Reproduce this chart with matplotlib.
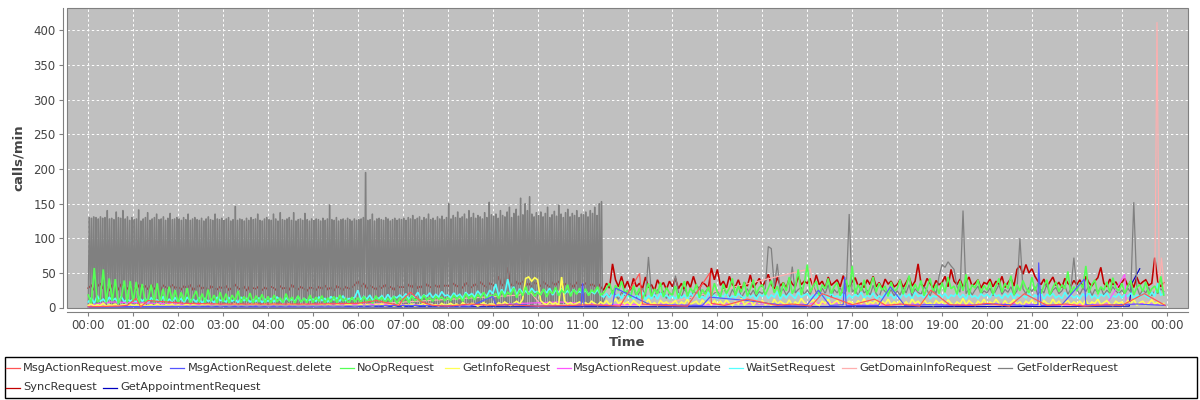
import numpy as np
import matplotlib
matplotlib.use("Agg")
import matplotlib.pyplot as plt
from matplotlib.patches import Rectangle
from matplotlib.lines import Line2D

# ---------------- data ----------------
series_names = ["MsgActionRequest.move", "MsgActionRequest.delete", "NoOpRequest",
                "GetInfoRequest", "MsgActionRequest.update", "WaitSetRequest",
                "GetDomainInfoRequest", "GetFolderRequest", "SyncRequest",
                "GetAppointmentRequest"]
series_colors = ["#FF5555", "#5555FF", "#55FF55", "#FFFF55", "#FF55FF", "#55FFFF",
                 "#FFAFAF", "#808080", "#C00000", "#0000C0"]

hour_labels = ["00:00", "01:00", "02:00", "03:00", "04:00", "05:00", "06:00", "07:00",
               "08:00", "09:00", "10:00", "11:00", "12:00", "13:00", "14:00", "15:00",
               "16:00", "17:00", "18:00", "19:00", "20:00", "21:00", "22:00", "23:00", "00:00"]
y_ticks = [0, 50, 100, 150, 200, 250, 300, 350, 400]

# 4-minute samples, one row per hour (calls/min)
sync_rows = [
    [28, 32, 25, 30, 35, 27, 31, 24, 33, 29, 26, 34, 30, 27, 32],
    [29, 25, 33, 28, 31, 26, 34, 27, 30, 24, 32, 29, 27, 33, 28],
    [30, 26, 31, 28, 33, 25, 29, 32, 27, 30, 24, 31, 28, 26, 30],
    [27, 31, 25, 29, 33, 28, 26, 30, 24, 32, 28, 27, 31, 25, 29],
    [26, 30, 28, 24, 31, 27, 29, 25, 33, 28, 26, 30, 27, 24, 29],
    [28, 25, 30, 27, 32, 26, 29, 24, 31, 28, 25, 30, 27, 29, 33],
    [38, 30, 35, 27, 32, 29, 26, 31, 28, 33, 27, 30, 25, 32, 29],
    [30, 27, 33, 29, 35, 28, 31, 26, 34, 30, 28, 32, 29, 35, 31],
    [32, 29, 35, 30, 33, 28, 36, 31, 29, 34, 30, 37, 32, 29, 35],
    [33, 30, 45, 31, 36, 58, 34, 30, 37, 33, 38, 31, 35, 30, 36],
    [34, 31, 37, 33, 29, 36, 32, 38, 30, 35, 31, 34, 29, 36, 33],
    [32, 35, 30, 34, 31, 36, 30, 25, 35, 28, 63, 40, 30, 45, 28],
    [38, 25, 42, 30, 35, 27, 44, 29, 33, 24, 40, 31, 36, 26, 38],
    [30, 42, 27, 35, 25, 38, 29, 45, 31, 27, 36, 33, 28, 57, 40],
    [55, 32, 38, 28, 45, 33, 30, 40, 27, 36, 31, 47, 29, 35, 42],
    [30, 38, 48, 33, 27, 44, 31, 36, 28, 42, 34, 30, 45, 33, 38],
    [35, 42, 30, 47, 33, 38, 28, 44, 32, 36, 40, 30, 46, 34, 29],
    [37, 43, 31, 35, 29, 40, 33, 45, 30, 36, 28, 41, 34, 38, 30],
    [33, 40, 29, 36, 44, 31, 38, 63, 34, 30, 42, 35, 28, 39, 33],
    [36, 45, 30, 55, 38, 33, 41, 29, 37, 44, 31, 35, 40, 28, 36],
    [34, 41, 30, 38, 33, 45, 29, 36, 42, 31, 55, 60, 48, 62, 50],
    [56, 45, 38, 33, 41, 30, 37, 44, 32, 36, 29, 42, 35, 31, 39],
    [33, 40, 29, 45, 36, 31, 38, 43, 58, 35, 30, 41, 33, 37, 29],
    [36, 42, 31, 38, 29, 44, 33, 37, 40, 32, 35, 72, 38, 30, 36],
]
noop_rows = [
    [18, 6, 57, 8, 12, 55, 7, 42, 9, 41, 6, 14, 39, 7, 38],
    [8, 37, 6, 34, 9, 12, 33, 7, 35, 8, 27, 6, 30, 10, 25],
    [7, 22, 9, 28, 6, 15, 24, 8, 20, 7, 26, 9, 18, 6, 22],
    [8, 20, 6, 18, 10, 24, 7, 16, 9, 21, 6, 17, 8, 19, 7],
    [16, 6, 18, 8, 14, 7, 20, 9, 15, 6, 17, 8, 13, 7, 18],
    [7, 15, 9, 17, 6, 14, 8, 16, 7, 18, 9, 13, 6, 15, 8],
    [14, 7, 16, 8, 12, 6, 17, 9, 15, 7, 13, 8, 16, 6, 14],
    [9, 15, 7, 17, 10, 13, 8, 18, 11, 14, 9, 16, 12, 15, 10],
    [14, 10, 18, 12, 16, 9, 20, 13, 17, 11, 19, 14, 22, 12, 18],
    [16, 20, 13, 24, 15, 22, 18, 28, 14, 25, 17, 30, 19, 23, 16],
    [22, 18, 27, 15, 24, 20, 29, 17, 25, 21, 33, 16, 26, 19, 28],
    [20, 27, 17, 25, 22, 30, 18, 21, 28, 35, 19, 32, 24, 38, 22],
    [24, 14, 32, 18, 28, 12, 22, 35, 16, 27, 20, 36, 15, 29, 21],
    [18, 31, 13, 25, 38, 16, 28, 21, 34, 14, 26, 19, 30, 17, 35],
    [22, 15, 34, 20, 28, 42, 17, 31, 22, 37, 16, 27, 40, 19, 29],
    [33, 18, 28, 39, 21, 31, 16, 36, 24, 44, 20, 29, 55, 18, 34],
    [62, 22, 31, 38, 18, 33, 27, 42, 20, 30, 36, 17, 29, 40, 22],
    [60, 20, 33, 24, 40, 18, 29, 44, 22, 35, 25, 31, 16, 37, 23],
    [27, 40, 19, 31, 46, 21, 34, 24, 39, 17, 29, 42, 22, 33, 20],
    [36, 22, 44, 27, 31, 19, 38, 24, 48, 18, 33, 28, 40, 21, 32],
    [25, 37, 19, 31, 42, 22, 35, 27, 46, 18, 33, 24, 39, 28, 21],
    [44, 24, 35, 20, 31, 40, 18, 29, 37, 23, 33, 27, 52, 19, 30],
    [24, 36, 28, 60, 21, 33, 40, 19, 30, 25, 37, 22, 43, 28, 24],
    [35, 20, 31, 39, 18, 29, 33, 23, 37, 19, 27, 31, 21, 45, 18],
]
waitset_rows = [
    [8, 14, 6, 17, 9, 12, 7, 15, 10, 13, 6, 16, 8, 12, 9],
    [12, 7, 15, 9, 13, 6, 14, 10, 11, 8, 16, 7, 12, 9, 14],
    [9, 13, 7, 15, 10, 12, 8, 14, 6, 13, 9, 11, 7, 15, 10],
    [11, 8, 14, 9, 12, 7, 15, 10, 13, 8, 11, 9, 14, 7, 12],
    [9, 13, 8, 15, 11, 7, 14, 10, 12, 9, 16, 8, 13, 10, 11],
    [12, 9, 15, 10, 13, 8, 16, 11, 14, 9, 17, 10, 13, 12, 15],
    [25, 11, 16, 12, 18, 10, 15, 13, 17, 11, 19, 12, 16, 14, 18],
    [14, 20, 12, 17, 15, 22, 13, 18, 16, 21, 14, 19, 15, 23, 17],
    [18, 14, 21, 16, 19, 13, 22, 17, 20, 15, 24, 18, 21, 16, 25],
    [20, 34, 17, 26, 19, 41, 22, 30, 18, 27, 21, 24, 19, 28, 22],
    [23, 19, 26, 21, 28, 18, 25, 22, 27, 20, 24, 19, 26, 21, 23],
    [21, 25, 19, 23, 20, 26, 18, 15, 20, 14, 22, 16, 19, 13, 21],
    [15, 20, 12, 18, 14, 22, 11, 17, 13, 19, 12, 21, 15, 18, 13],
    [17, 12, 20, 14, 18, 11, 21, 15, 19, 13, 16, 12, 22, 14, 18],
    [13, 19, 15, 22, 12, 17, 14, 20, 16, 13, 21, 15, 18, 12, 19],
    [16, 21, 13, 18, 15, 23, 12, 19, 14, 20, 17, 13, 22, 15, 18],
    [20, 14, 18, 13, 22, 16, 19, 12, 21, 15, 17, 14, 20, 13, 18],
    [14, 19, 16, 22, 13, 18, 15, 21, 12, 17, 14, 20, 16, 19, 13],
    [18, 13, 21, 15, 19, 12, 22, 16, 18, 14, 20, 13, 17, 15, 21],
    [15, 20, 13, 18, 16, 22, 14, 19, 12, 21, 15, 17, 13, 20, 16],
    [19, 14, 22, 16, 18, 13, 20, 15, 21, 12, 19, 16, 17, 14, 22],
    [13, 18, 15, 21, 12, 19, 16, 20, 14, 17, 13, 22, 15, 18, 14],
    [17, 13, 20, 15, 22, 14, 18, 12, 19, 16, 21, 13, 17, 15, 20],
    [14, 19, 16, 21, 13, 18, 15, 20, 17, 14, 22, 16, 35, 18, 20],
]
getinfo_rows = [
    [3, 5, 2, 4, 3, 6, 2, 4, 3, 5, 2, 3, 4, 2, 5],
    [2, 4, 3, 5, 2, 3, 4, 2, 5, 3, 2, 4, 3, 5, 2],
    [4, 2, 3, 5, 2, 4, 3, 2, 4, 3, 5, 2, 3, 4, 2],
    [3, 4, 2, 3, 5, 2, 4, 3, 2, 4, 3, 5, 2, 3, 4],
    [2, 3, 5, 2, 4, 3, 2, 5, 3, 4, 2, 3, 4, 2, 3],
    [4, 2, 3, 4, 2, 5, 3, 2, 4, 3, 2, 4, 5, 3, 2],
    [3, 5, 2, 4, 3, 2, 4, 3, 5, 2, 3, 4, 2, 3, 5],
    [2, 4, 3, 5, 2, 3, 4, 6, 2, 5, 3, 4, 2, 6, 3],
    [4, 6, 3, 5, 2, 7, 4, 3, 6, 5, 2, 4, 7, 3, 5],
    [5, 3, 7, 4, 8, 5, 3, 6, 9, 5, 12, 42, 44, 38, 43],
    [40, 10, 6, 4, 8, 5, 7, 3, 44, 9, 5, 7, 4, 6, 8],
    [5, 7, 4, 9, 6, 3, 8, 5, 10, 4, 7, 12, 6, 9, 5],
    [8, 4, 10, 6, 3, 9, 5, 12, 4, 7, 3, 10, 6, 8, 4],
    [6, 10, 3, 8, 5, 12, 4, 7, 9, 3, 11, 5, 8, 4, 10],
    [5, 9, 4, 11, 6, 3, 8, 5, 13, 4, 7, 10, 3, 9, 6],
    [10, 4, 7, 3, 12, 5, 9, 6, 4, 11, 3, 8, 5, 13, 7],
    [4, 8, 11, 5, 3, 9, 6, 12, 4, 7, 10, 3, 8, 5, 9],
    [7, 3, 10, 5, 13, 4, 8, 6, 11, 3, 9, 5, 12, 4, 8],
    [5, 10, 4, 8, 3, 12, 6, 9, 4, 11, 5, 7, 3, 10, 6],
    [9, 4, 11, 6, 3, 8, 5, 13, 4, 10, 6, 3, 9, 5, 12],
    [4, 8, 5, 12, 6, 3, 10, 4, 7, 11, 5, 8, 3, 9, 6],
    [11, 5, 8, 3, 10, 6, 4, 12, 5, 9, 3, 7, 10, 4, 8],
    [5, 9, 4, 11, 3, 8, 6, 12, 4, 7, 10, 5, 3, 9, 6],
    [8, 4, 10, 5, 12, 3, 7, 9, 4, 6, 11, 5, 8, 4, 6],
]

# GetFolderRequest: bursts every 3 minutes until ~11:25 (peak values per burst)
folder_peak_rows = [
    [130, 129, 131, 130, 128, 131, 129, 130, 140, 128, 129, 127, 138, 130, 129, 140, 128, 131, 126, 130],
    [127, 128, 141, 125, 128, 130, 137, 126, 128, 130, 135, 127, 128, 131, 126, 129, 136, 127, 128, 130],
    [128, 126, 130, 127, 135, 126, 128, 130, 127, 126, 129, 125, 128, 131, 127, 126, 135, 128, 127, 129],
    [126, 128, 130, 125, 127, 146, 126, 128, 127, 125, 129, 126, 130, 127, 128, 135, 126, 125, 128, 130],
    [127, 126, 135, 128, 125, 137, 127, 126, 128, 130, 126, 137, 125, 127, 128, 126, 136, 127, 125, 128],
    [126, 128, 127, 125, 129, 126, 128, 148, 127, 126, 130, 125, 127, 128, 126, 129, 127, 125, 128, 126],
    [127, 128, 130, 195, 126, 127, 135, 125, 128, 129, 127, 126, 130, 128, 125, 127, 129, 126, 128, 127],
    [129, 126, 130, 128, 133, 127, 129, 131, 126, 130, 128, 135, 127, 129, 126, 131, 128, 132, 127, 130],
    [150, 128, 133, 130, 138, 129, 131, 135, 128, 140, 130, 136, 129, 133, 131, 128, 137, 130, 152, 134],
    [132, 135, 129, 140, 133, 131, 138, 145, 130, 136, 142, 132, 158, 134, 150, 140, 160, 135, 131, 137],
    [133, 138, 131, 136, 145, 130, 134, 139, 132, 148, 135, 130, 137, 142, 131, 136, 133, 140, 130, 135],
    [134, 138, 131, 140, 136, 145, 133, 150, 153],
]
folder_troughs = [4, 7, 3, 9, 5, 2, 8, 6]
# GetFolderRequest after 11:32, 4-minute samples
folder_tail_rows = [
    [20, 15, 25, 18, 12, 22, 17],
    [25, 18, 30, 14, 22, 28, 16, 73, 20, 15, 26, 19, 24, 13, 21],
    [18, 46, 22, 15, 27, 20, 13, 25, 19, 30, 16, 23, 28, 14, 21],
    [24, 17, 29, 20, 15, 26, 19, 32, 14, 22, 27, 18, 25, 16, 23],
    [20, 28, 88, 85, 30, 63, 22, 27, 18, 24, 59, 21, 26, 29, 19],
    [25, 19, 31, 22, 17, 28, 20, 33, 15, 26, 21, 29, 18, 24, 135],
    [22, 27, 16, 30, 21, 25, 18, 32, 20, 15, 28, 23, 19, 26, 17],
    [24, 18, 29, 21, 33, 16, 27, 22, 19, 30, 25, 17, 28, 20, 45],
    [62, 58, 66, 60, 55, 30, 22, 140, 20, 27, 18, 25, 31, 19, 24],
    [21, 28, 17, 25, 33, 19, 26, 22, 30, 18, 24, 100, 27, 20, 29],
    [23, 30, 18, 26, 21, 34, 17, 25, 29, 20, 24, 32, 19, 27, 72],
    [26, 19, 28, 23, 31, 17, 26, 22, 29, 18, 25, 21, 30, 24, 20],
    [25, 19, 28, 22, 152, 30, 18, 26, 21, 29, 17, 24, 20, 27, 23],
]

# sparse series (time, value)
move_times = ["00:00", "00:40", "00:52", "01:04", "01:10", "01:20", "01:45", "02:10", "03:00",
              "04:00", "05:00", "06:00", "06:25", "06:55", "07:00", "07:10", "07:25", "07:40",
              "08:00", "08:30", "09:00", "09:20", "10:00", "10:45", "11:10", "11:50", "12:16",
              "12:20", "12:50", "13:20", "13:50", "13:52", "14:10", "14:40", "15:20", "15:40",
              "16:05", "16:20", "17:00", "17:30", "17:45", "18:05", "18:30", "18:45", "19:10",
              "19:40", "20:00", "20:30", "20:50", "21:20", "21:45", "22:10", "22:40", "23:00",
              "23:30", "23:58"]
move_vals = [1, 2, 3, 13, 1, 10, 8, 6, 5, 5, 5, 6, 10, 3, 12, 22, 8, 3, 2, 5, 3, 4, 2, 3, 4, 2,
             49, 5, 3, 2, 50, 6, 3, 12, 3, 5, 2, 20, 4, 12, 3, 5, 2, 25, 4, 3, 6, 2, 20, 3, 5,
             2, 4, 3, 20, 3]
delete_times = ["00:00", "03:00", "06:00", "07:00", "08:30", "09:00", "09:05", "09:30", "10:00",
                "10:58", "11:00", "11:02", "11:40", "11:44", "12:30", "13:40", "13:50", "14:20",
                "14:40", "15:30", "16:00", "16:15", "16:30", "16:48", "16:50", "16:52", "17:35",
                "17:51", "18:10", "18:40", "19:30", "20:10", "20:50", "21:08", "21:09", "21:12",
                "21:40", "22:10", "22:12", "22:30", "23:20", "23:58"]
delete_vals = [1, 2, 2, 3, 2, 16, 3, 5, 2, 3, 35, 3, 3, 28, 4, 3, 15, 12, 10, 3, 4, 25, 3, 4,
               44, 3, 3, 30, 3, 4, 3, 5, 3, 4, 65, 3, 4, 41, 4, 3, 5, 3]
update_times = ["00:00", "00:30", "01:30", "02:30", "04:00", "05:30", "07:00", "08:20", "09:40",
                "10:30", "11:30", "12:40", "13:30", "14:30", "15:40", "16:30", "17:20", "18:20",
                "19:20", "20:30", "21:30", "22:40", "23:04", "23:06", "23:30", "23:58"]
update_vals = [3, 8, 6, 4, 3, 5, 4, 3, 6, 8, 4, 5, 3, 6, 4, 7, 3, 5, 4, 6, 3, 5, 48, 4, 6, 3]
domain_times = ["00:00", "02:10", "05:30", "09:36", "09:44", "09:52", "10:04", "12:40", "16:04",
                "16:12", "19:20", "21:40", "23:20", "23:44", "23:47", "23:50", "23:53", "23:57"]
domain_vals = [2, 3, 2, 18, 25, 20, 4, 3, 56, 5, 4, 3, 5, 10, 412, 30, 72, 25]
appt_times = ["00:00", "06:00", "12:00", "18:00", "23:10", "23:13", "23:24"]
appt_vals = [1, 1, 1, 1, 2, 34, 56]


# ---------------- helpers ----------------
def flat(rows):
    return [v for r in rows for v in r]


def to_hours(ts):
    return np.array([int(s[:2]) + int(s[3:]) / 60.0 for s in ts])


def regular(rows, start_min=0, step_min=4):
    vals = np.array(flat(rows), dtype=float)
    t = (start_min + np.arange(len(vals)) * step_min) / 60.0
    return t, vals


# GetFolderRequest series: trough / peak / trough each 3-minute burst, then tail
peaks = flat(folder_peak_rows)
f_t, f_v = [], []
for i, p in enumerate(peaks):
    base = 3 * i
    f_t += [base, base + 1.0, base + 1.6, base + 2.6]
    f_v += [folder_troughs[i % len(folder_troughs)], p, p,
            folder_troughs[(i + 3) % len(folder_troughs)]]
tail_t, tail_v = regular(folder_tail_rows, start_min=692, step_min=4)
folder_t = np.concatenate([np.array(f_t) / 60.0, tail_t])
folder_v = np.concatenate([np.array(f_v, dtype=float), tail_v])

data = {
    "MsgActionRequest.move": (to_hours(move_times), np.array(move_vals, float)),
    "MsgActionRequest.delete": (to_hours(delete_times), np.array(delete_vals, float)),
    "NoOpRequest": regular(noop_rows),
    "GetInfoRequest": regular(getinfo_rows),
    "MsgActionRequest.update": (to_hours(update_times), np.array(update_vals, float)),
    "WaitSetRequest": regular(waitset_rows),
    "GetDomainInfoRequest": (to_hours(domain_times), np.array(domain_vals, float)),
    "GetFolderRequest": (folder_t, folder_v),
    "SyncRequest": regular(sync_rows),
    "GetAppointmentRequest": (to_hours(appt_times), np.array(appt_vals, float)),
}
line_widths = {"GetFolderRequest": 0.9, "NoOpRequest": 1.2, "SyncRequest": 1.15,
               "WaitSetRequest": 1.2, "GetInfoRequest": 1.2}

# ---------------- figure ----------------
W, H = 1200, 400
fig = plt.figure(figsize=(12, 4), dpi=100)
ax = fig.add_axes([66.7 / W, 1 - 307.5 / H, (1188.3 - 66.7) / W, (307.5 - 8.3) / H])
ax.set_facecolor("#C0C0C0")

for i, name in enumerate(series_names):
    t, v = data[name]
    ax.plot(t, v, color=series_colors[i], lw=line_widths.get(name, 0.85),
            zorder=20 - i, solid_joinstyle="miter")

ax.set_xlim(-0.48, 24.48)
ax.set_ylim(0, 432)
ax.set_xticks(range(len(hour_labels)))
ax.set_xticklabels(hour_labels)
ax.set_yticks(y_ticks)
ax.set_yticklabels([str(v) for v in y_ticks])

ax.set_axisbelow(True)
ax.grid(True, color="white", lw=0.7, linestyle=(0, (2.5, 2.5)))

for s in ["top", "right"]:
    ax.spines[s].set_visible(False)
for s in ["left", "bottom"]:
    ax.spines[s].set_position(("outward", 3))
    ax.spines[s].set_color("#808080")
    ax.spines[s].set_linewidth(0.8)
ax.add_patch(Rectangle((0, 0), 1, 1, transform=ax.transAxes, fill=False,
                       edgecolor="#808080", lw=0.8, zorder=60, clip_on=False))
ax.tick_params(axis="both", length=3, width=0.8, color="#808080",
               labelcolor="#444444", labelsize=8.5, pad=2)

ax.set_xlabel("Time", fontsize=9.5, fontweight="bold", color="#444444", labelpad=3)
ax.set_ylabel("calls/min", fontsize=9.5, fontweight="bold", color="#444444", labelpad=6)

# ---------------- legend (flow layout like the reference) ----------------
fig.add_artist(Rectangle((5 / W, 1 - 398 / H), (1197 - 5) / W, (398 - 357) / H,
                         transform=fig.transFigure, fill=False, edgecolor="black", lw=1.0))
row_y = [368, 387.5]
rows_layout = [
    [(0, 6, 23), (1, 170, 188), (2, 340, 357), (3, 445, 462),
     (4, 557, 573), (5, 729, 746), (6, 842, 859), (7, 998, 1016)],
    [(8, 6, 23), (9, 103, 120)],
]
for r, items in enumerate(rows_layout):
    y = 1 - row_y[r] / H
    for idx, lx, tx in items:
        fig.add_artist(Line2D([lx / W, (lx + 14) / W], [y, y], transform=fig.transFigure,
                              color=series_colors[idx], lw=0.9))
        fig.text(tx / W, y, series_names[idx], fontsize=8.2, color="#333333",
                 ha="left", va="center")

fig.savefig("out.png", dpi=100, facecolor="white")
